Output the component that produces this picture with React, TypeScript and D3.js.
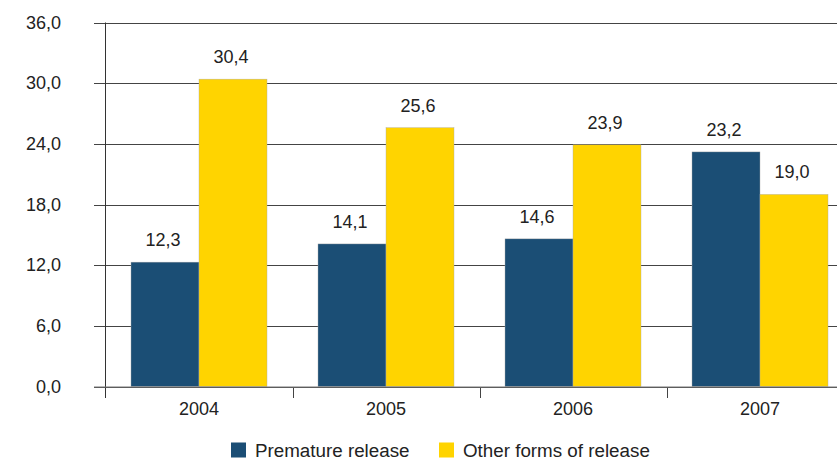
import React from "react";
import * as d3 from "d3";

const years = ["2004", "2005", "2006", "2007"];
const seriesNames = ["Premature release", "Other forms of release"];
const premature = [12.3, 14.1, 14.6, 23.2];
const otherForms = [30.4, 25.6, 23.9, 19.0];
const yTicks = [0, 6, 12, 18, 24, 30, 36];
const colors = ["#1b4e75", "#ffd400"];

const W = 837;
const H = 459;
const fmt = (v: number) => v.toFixed(1).replace(".", ",");

export default function App() {
  const x = d3.scaleBand<string>().domain(years).range([105.5, 105.5 + 4 * 187]).padding(0);
  const xs = d3.scaleBand<string>().domain(seriesNames).range([25.5, 161.5]).padding(0);
  const y = d3.scaleLinear().domain([0, 36]).range([386.5, 22.5]);
  const values = [premature, otherForms];
  const font = "'Liberation Sans', Arial, sans-serif";

  return (
    <svg width={W} height={H} style={{ position: "absolute", left: 0, top: 0, background: "#fff" }} fontFamily={font}>
      {yTicks.map((t) => (
        <g key={t}>
          <line x1={94} x2={W} y1={Math.round(y(t)) + 0.5} y2={Math.round(y(t)) + 0.5} stroke="#444" strokeWidth={1} />
          <text x={61} y={y(t) + 6} textAnchor="end" fontSize={18} fill="#222">{fmt(t)}</text>
        </g>
      ))}
      <line x1={105.5} x2={105.5} y1={y(36)} y2={398} stroke="#333" strokeWidth={1} />
      {years.map((yr, i) => (
        <g key={yr}>
          {seriesNames.map((s, k) => {
            const v = values[k][i];
            const bx = (x(yr) as number) + (xs(s) as number);
            return (
              <g key={s}>
                <rect x={bx} y={y(v)} width={xs.bandwidth()} height={y(0) - y(v)} fill={colors[k]} stroke="#aaa" strokeWidth={0.4} />
                <text x={bx + xs.bandwidth() / 2 - 2} y={y(v) - 16} textAnchor="middle" fontSize={18} fill="#222">{fmt(v)}</text>
              </g>
            );
          })}
          <line x1={Math.round((x(yr) as number) + 187) + 0.5} x2={Math.round((x(yr) as number) + 187) + 0.5} y1={387} y2={398} stroke="#444" strokeWidth={1} />
          <text x={(x(yr) as number) + 93.5} y={415} textAnchor="middle" fontSize={18} fill="#222">{yr}</text>
        </g>
      ))}
      <line x1={94} x2={W} y1={387} y2={387} stroke="#777" strokeWidth={1} />
      {seriesNames.map((s, k) => {
        const lx = k === 0 ? 231 : 439;
        return (
          <g key={s}>
            <rect x={lx} y={442.5} width={15} height={15} fill={colors[k]} />
            <text x={lx + 24} y={457} fontSize={18.8} fill="#222">{s}</text>
          </g>
        );
      })}
    </svg>
  );
}
